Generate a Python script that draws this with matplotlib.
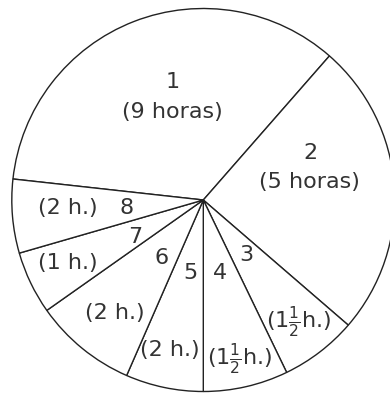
import matplotlib
matplotlib.use("Agg")
import matplotlib.pyplot as plt

# activities of the day, in hours (24 h total)
activity = ["1", "2", "3", "4", "5", "6", "7", "8"]
hours = [9, 5, 1.5, 1.5, 2, 2, 1, 2]
hour_labels = ["(9 horas)", "(5 horas)", r"(1$\frac{1}{2}$h.)", r"(1$\frac{1}{2}$h.)",
               "(2 h.)", "(2 h.)", "(1 h.)", "(2 h.)"]
# the slices as drawn in the original (degrees, not exactly to scale)
drawn_deg = [124.9, 89.6, 23.4, 25.8, 23.6, 31.2, 19.1, 22.4]

W, H = 390, 393
CX, CY, R = 203.3, H - 200, 191.5
INK = "#222222"
TXT = "#333333"

plt.rcParams["font.family"] = ["DejaVu Sans"]
plt.rcParams["mathtext.fontset"] = "dejavusans"

fig = plt.figure(figsize=(W / 100, H / 100), dpi=100)
ax = fig.add_axes([0, 0, 1, 1])

ax.pie(drawn_deg, startangle=173.7, counterclock=False, center=(CX, CY), radius=R,
       colors=["white"] * len(drawn_deg),
       wedgeprops=dict(edgecolor=INK, linewidth=1.0))

ax.set_xlim(0, W)
ax.set_ylim(0, H)
ax.set_aspect("equal")
ax.axis("off")

# label placement (pixels from top-left)
num_pos = [(172.3, 81.7), (310, 153), (246, 255), (220, 273.3),
           (190, 273.3), (161.7, 258.3), (135, 236.7), (126.7, 208.3)]
hour_pos = [(172.5, 111.7), (309.3, 181.7), (298.3, 321.7), (240, 358.3),
            (170, 350), (115, 313.3), (68.3, 263.3), (68.3, 208.3)]

fs = 16
for name, (x, y) in zip(activity, num_pos):
    ax.text(x, H - y, name, ha="center", va="center", fontsize=fs, color=TXT)
for lab, (x, y) in zip(hour_labels, hour_pos):
    ax.text(x, H - y, lab, ha="center", va="center", fontsize=fs, color=TXT)

fig.savefig("out.png", dpi=100, facecolor="white")
